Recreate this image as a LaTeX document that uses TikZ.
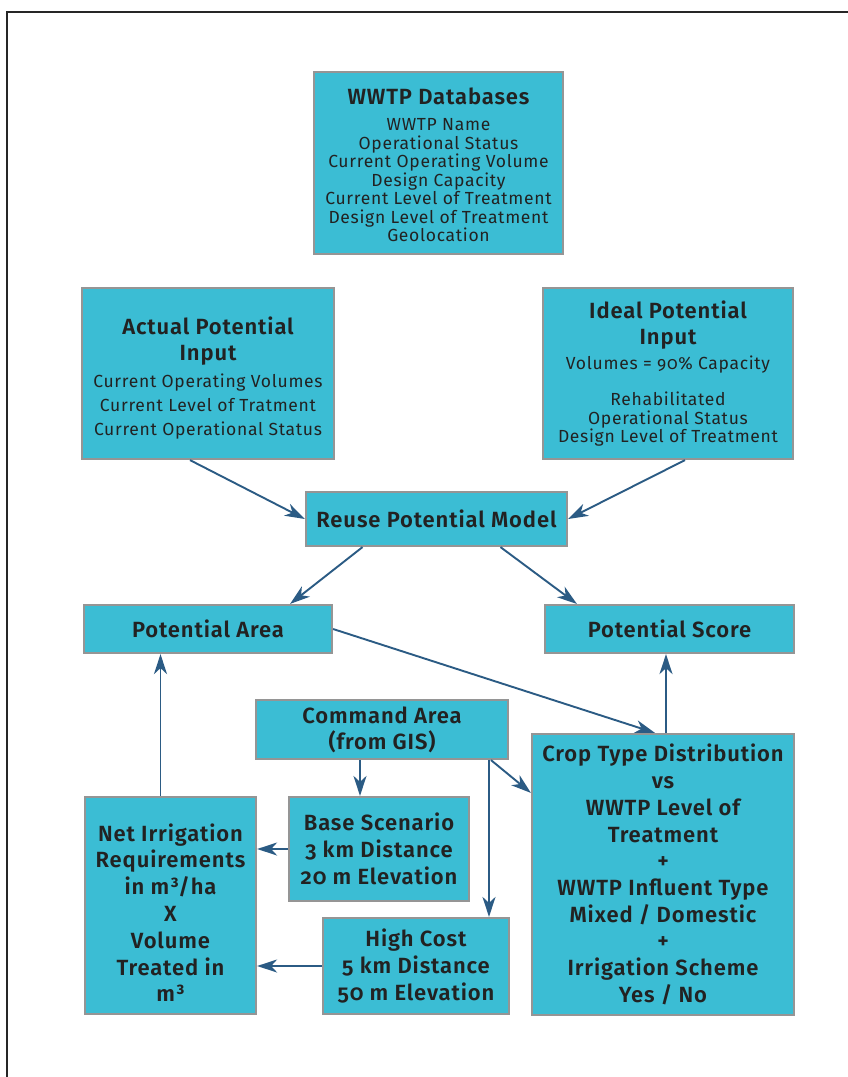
\documentclass[tikz,border=0pt]{standalone}
\usepackage{fontspec}
\setmainfont{Fira Sans}[Numbers=OldStyle, LetterSpace=4, BoldFont={Fira Sans SemiBold}]
\usetikzlibrary{arrows.meta,calc}
\definecolor{boxfill}{HTML}{3BBDD4}
\definecolor{boxline}{HTML}{959595}
\definecolor{arrcol}{HTML}{2B5B84}
\definecolor{txt}{HTML}{222222}
\newcommand{\bA}{\fontsize{17.5}{18.5}\selectfont\mdseries}
\newcommand{\tA}{\fontsize{22}{27}\selectfont\bfseries}
\tikzset{
  box/.style={draw=boxline, line width=2.2pt, fill=boxfill, text=txt, align=center, inner sep=2pt},
  arr/.style={draw=arrcol, line width=1.9pt, -{Stealth[length=20pt,width=13pt,inset=6pt]}},
  ttl/.style={font=\tA},
}
\begin{document}
\begin{tikzpicture}[x=1pt,y=-1pt]
\useasboundingbox (0,0) rectangle (848,1077);
\fill[white] (0,0) rectangle (848,1077);
\draw[line width=2.2pt, black!85] (848,12) -- (7,12) -- (7,1077);

\node[box, font=\bA, minimum width=249, minimum height=182] (db) at (438.5,163)
 {\tA\rule{0pt}{20pt}WWTP Databases\\[8pt]
  \bA WWTP Name\\ \bA Operational Status\\ \bA Current Operating Volume\\
  \bA Design Capacity\\ \bA Current Level of Treatment\\ \bA Design Level of Treatment\\ \bA Geolocation};

\node[box, font=\bA, minimum width=252, minimum height=171] (act) at (208,373.5)
 {\tA\rule{0pt}{26pt}Actual Potential\\[8pt] \tA Input\\[8pt]
  \bA Current Operating Volumes\\[5.5pt] \bA Current Level of Tratment\\[5.5pt] \bA Current Operational Status};

\node[box, font=\bA, minimum width=250, minimum height=171] (ide) at (668,373.5)
 {\tA Ideal Potential\\[8pt] \tA Input\\[6pt]
  \bA Volumes = 90\% Capacity\\[18pt]
  \bA Rehabilitated\\ \bA Operational Status\\ \bA Design Level of Treatment};

\node[box, ttl, minimum width=261, minimum height=54] (rpm) at (436.5,519) {Reuse Potential Model};
\node[box, ttl, minimum width=248, minimum height=48] (pa) at (208,629) {Potential Area};
\node[box, ttl, minimum width=249, minimum height=48] (ps) at (669.5,629) {Potential Score};

\node[box, minimum width=252, minimum height=59, font=\fontsize{22}{26}\selectfont\bfseries] (cmd) at (382,729.5) {Command Area\\ (from GIS)};

\node[box, minimum width=262, minimum height=281, font=\fontsize{22}{26.7}\selectfont\bfseries] (crop) at (663,874.5)
 {Crop Type Distribution\\ vs\\ WWTP Level of\\ Treatment\\ +\\ WWTP Influent Type\\ Mixed / Domestic\\ +\\ Irrigation Scheme\\ Yes / No};

\node[box, minimum width=180, minimum height=104, font=\fontsize{22}{27}\selectfont\bfseries] (base) at (379,849)
 {Base Scenario\\ 3 km Distance\\ 20 m Elevation};

\node[box, minimum width=186, minimum height=96, font=\fontsize{22}{27}\selectfont\bfseries] (hc) at (416,966)
 {High Cost\\ 5 km Distance\\ 50 m Elevation};

\node[box, minimum width=171, minimum height=217, font=\fontsize{22}{26.8}\selectfont\bfseries] (net) at (170.5,905.5)
 {\rule{0pt}{32pt}Net Irrigation\\ Requirements\\ in m³/ha\\ X\\ Volume\\ Treated in\\ m³};

% connectors
\draw[arr] ([xshift=-18pt]act.south) -- (rpm.west);
\draw[arr] ([xshift=17pt]ide.south) -- (rpm.east);
\draw[arr] ([xshift=-74pt]rpm.south) -- ([xshift=-43pt]pa.north east);
\draw[arr] ([xshift=64pt]rpm.south) -- ([xshift=33pt]ps.north west);
\draw[arr] (pa.east) -- ([xshift=-8pt]crop.north);
\draw[arr] ([xshift=3pt]crop.north) -- ([xshift=3pt]crop.north |- ps.south);
\coordinate (cl) at ([xshift=-22pt]cmd.south);
\draw[arr] (cl) -- (cl |- base.north);
\coordinate (cr) at ([xshift=107pt]cmd.south);
\draw[arr] (cr) -- (cr |- hc.north);
\draw[arr] ([xshift=2pt]cr) -- ([yshift=-60pt]crop.north west);
\draw[arr] (base.west) -- (base.west -| net.east);
\draw[arr] (hc.west) -- (hc.west -| net.east);
\coordinate (nt) at ([xshift=-10pt]net.north);
\draw[arr] (nt) -- (nt |- pa.south);
\end{tikzpicture}
\end{document}
